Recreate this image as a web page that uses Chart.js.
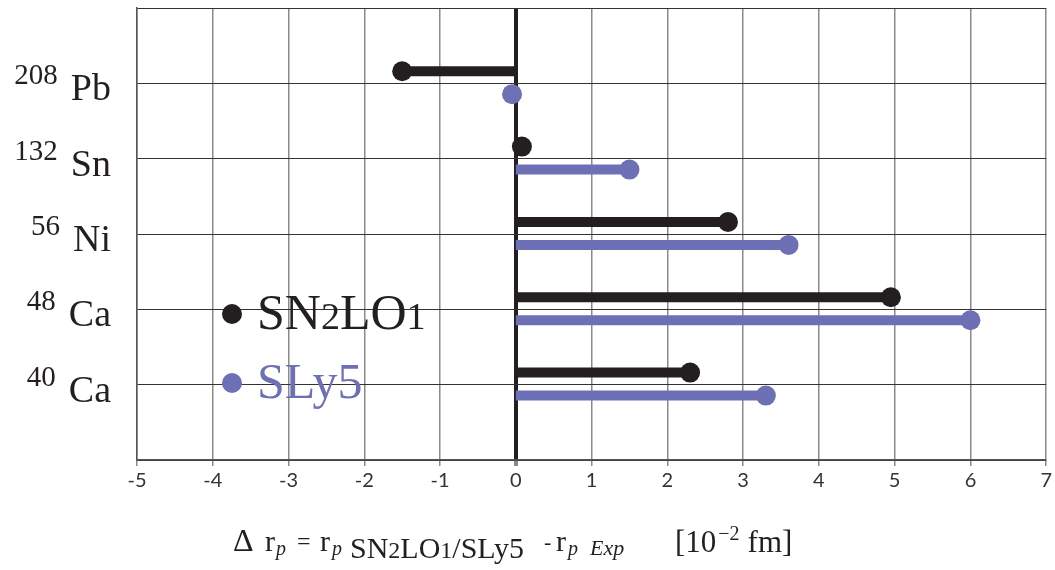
<!DOCTYPE html>
<html>
<head>
<meta charset="utf-8">
<script src="https://cdn.jsdelivr.net/npm/chart.js@4"></script>
<style>
  html, body { margin: 0; padding: 0; background: #fff; }
  #wrap { width: 1055px; height: 570px; }
</style>
</head>
<body>
<div id="wrap"><canvas id="chart"></canvas></div>
<script>
// nuclei, top to bottom
var nuclei_mass = ['208', '132', '56', '48', '40'];
var nuclei_name = ['Pb', 'Sn', 'Ni', 'Ca', 'Ca'];
var nuclei_pos = [5, 4, 3, 2, 1];
// delta r_p in 10^-2 fm
var sn2lo1_values = [-1.5, 0.08, 2.8, 4.95, 2.3];
var sly5_values = [-0.05, 1.5, 3.6, 6.0, 3.3];
var x_ticks = [-5, -4, -3, -2, -1, 0, 1, 2, 3, 4, 5, 6, 7];

var black = '#231f20';
var blue = '#6e70b6';
var serif = '"Liberation Serif"';

// build one broken line per series: (0,y) -> (v,y), then a gap
function make_lollipops(values, offset) {
	var pts = [];
	for (var i = 0; i < values.length; i++) {
		pts.push({x: 0, y: nuclei_pos[i] + offset});
		pts.push({x: values[i], y: nuclei_pos[i] + offset});
		pts.push({x: null, y: null});
	}
	return pts;
}

function end_radius(ctx) {
	// only the value end gets a dot
	return (ctx.dataIndex % 3 == 1) ? 10 : 0;
}

var labelsPlugin = {
	id: 'labels',
	afterDraw: function(chart) {
		var c = chart.ctx;
		var ys = chart.scales.y;
		c.save();
		c.textBaseline = 'alphabetic';
		c.fillStyle = black;
		// y labels with mass number superscript
		for (var i = 0; i < nuclei_mass.length; i++) {
			var py = ys.getPixelForValue(nuclei_pos[i]);
			c.font = '38px ' + serif;
			c.textAlign = 'right';
			c.fillText(nuclei_name[i], 111, py + 17);
			var w = c.measureText(nuclei_name[i]).width;
			c.font = '29px ' + serif;
			c.fillText(nuclei_mass[i], 111 - w - 13, py + 1);
		}

		c.textAlign = 'left';
		var x, base;
		function seg(txt, font, dy) {
			c.font = font;
			c.fillText(txt, x, base + (dy || 0));
			x += c.measureText(txt).width;
		}
		function at(txt, font, px, py) {
			c.font = font;
			c.fillText(txt, px, py);
		}

		// legend inside the plot
		c.beginPath();
		c.arc(232, 314, 10, 0, Math.PI * 2);
		c.fillStyle = black;
		c.fill();
		x = 257; base = 329;
		seg('SN', '50px ' + serif);
		seg('2', '38px ' + serif);
		seg('LO', '50px ' + serif);
		seg('1', '38px ' + serif);

		c.beginPath();
		c.arc(232, 383, 10, 0, Math.PI * 2);
		c.fillStyle = blue;
		c.fill();
		x = 257; base = 398;
		seg('SLy5', '50px ' + serif);

		// axis title
		c.fillStyle = black;
		at('\u0394', '32px ' + serif, 233, 551);
		at('r', '30px ' + serif, 265, 551);
		at('p', 'italic 20px ' + serif, 276, 555);
		at('=', '24px ' + serif, 297, 549);
		at('r', '30px ' + serif, 320, 551);
		at('p', 'italic 20px ' + serif, 332, 555);
		x = 350; base = 558;
		seg('SN', '30px ' + serif);
		seg('2', '24px ' + serif);
		seg('LO', '30px ' + serif);
		seg('1', '24px ' + serif);
		seg('/SLy5', '30px ' + serif);
		at('-', '22px ' + serif, 544, 549);
		at('r', '30px ' + serif, 556, 551);
		at('p', 'italic 20px ' + serif, 568, 555);
		at('Exp', 'italic 22px ' + serif, 590, 555);
		x = 675; base = 552;
		seg('[10', '31px ' + serif);
		x += 2;
		seg('\u22122', '20px ' + serif, -12);
		x += 8;
		seg('fm]', '31px ' + serif);
		c.restore();
	}
};

var myChart = new Chart(document.getElementById('chart'), {
	type: 'scatter',
	data: {
		datasets: [{
			label: 'SN2LO1',
			data: make_lollipops(sn2lo1_values, 0.16),
			showLine: true,
			spanGaps: false,
			borderColor: black,
			backgroundColor: black,
			borderWidth: 10,
			borderCapStyle: 'butt',
			pointRadius: end_radius,
			pointBorderWidth: 0,
			pointHoverRadius: end_radius,
		}, {
			label: 'SLy5',
			data: make_lollipops(sly5_values, -0.145),
			showLine: true,
			spanGaps: false,
			borderColor: blue,
			backgroundColor: blue,
			borderWidth: 10,
			borderCapStyle: 'butt',
			pointRadius: end_radius,
			pointBorderWidth: 0,
			pointHoverRadius: end_radius,
		}]
	},
	options: {
		responsive: true,
		maintainAspectRatio: false,
		animation: false,
		layout: { padding: { top: 8, right: 8 } },
		plugins: {
			legend: { display: false },
			tooltip: { enabled: false }
		},
		scales: {
			x: {
				type: 'linear',
				min: -5,
				max: 7,
				afterBuildTicks: function(scale) {
					scale.ticks = x_ticks.map(function(v) { return {value: v}; });
				},
				afterFit: function(scale) { scale.height = 110; },
				grid: {
					color: function(ctx) { return ctx.tick && ctx.tick.value == 0 ? black : '#8a8a8a'; },
					lineWidth: function(ctx) { return ctx.tick && ctx.tick.value == 0 ? 4 : 1.5; },
					drawTicks: true,
					tickLength: 6,
					tickColor: '#8a8a8a'
				},
				border: { color: '#555', width: 1.5 },
				ticks: {
					color: '#333',
					font: { family: 'Lato', size: 20 },
					padding: 3,
					callback: function(v) { return v < 0 ? '-' + Math.abs(v) : '' + v; }
				}
			},
			y: {
				type: 'linear',
				min: 0,
				max: 6,
				ticks: { display: false, stepSize: 1 },
				afterFit: function(scale) { scale.width = 137; },
				grid: { color: '#333', lineWidth: 1, drawTicks: false },
				border: { color: '#555', width: 1.5 }
			}
		}
	},
	plugins: [labelsPlugin]
});
</script>
</body>
</html>
